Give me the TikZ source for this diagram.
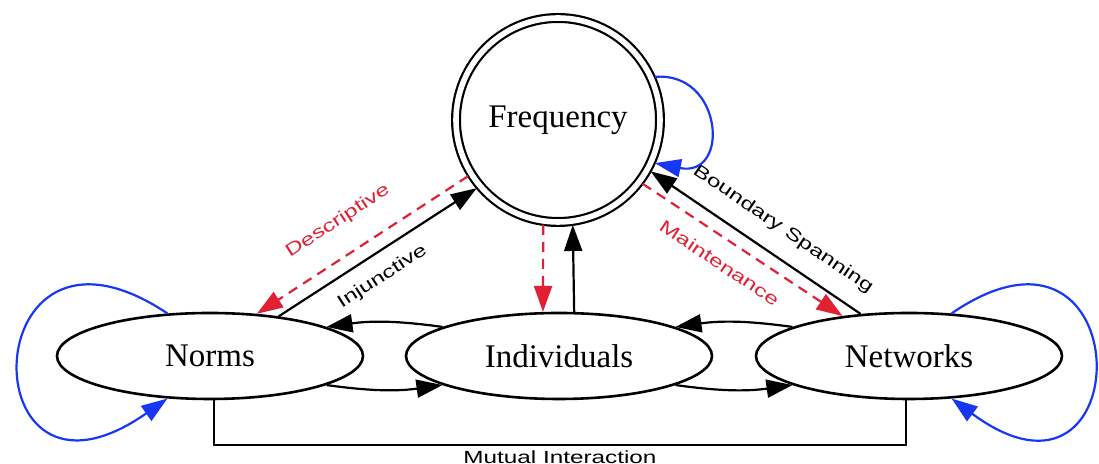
\documentclass[tikz,border=0pt]{standalone}
\usepackage{fontspec}
\setmainfont{Liberation Serif}
\newfontfamily\edgefont[FakeStretch=1.38]{Liberation Sans}
\usetikzlibrary{arrows.meta,shapes.geometric}
\definecolor{cuered}{RGB}{226,32,52}
\definecolor{loopblue}{RGB}{22,56,245}

\begin{document}
\begin{tikzpicture}
  [x=.5pt,y=.5pt,line width=1.1pt,
   state/.style={ellipse,draw,line width=1.3pt,minimum width=153pt,minimum height=43pt,inner sep=0pt,font=\fontsize{16.5}{18}\selectfont},
   hub/.style={circle,draw,double,double distance=2.8pt,minimum size=102pt,inner sep=0pt,outer sep=2pt,font=\fontsize{16.5}{18}\selectfont},
   link/.style={-{Triangle[length=13pt,width=9pt]}},
   cue/.style={link,color=cuered,dash pattern=on 5pt off 3.5pt},
   selfloop/.style={link,color=loopblue},
   tag/.style={sloped,inner sep=0pt,font=\fontsize{8.8}{10}\edgefont}]
  \useasboundingbox (0,0) rectangle (1099,464);

  \node[hub] (freq) at (558,344) {Frequency};
  \node[state] (norms) at (210,108) {Norms};
  \node[state] (indiv) at (559,108) {Individuals};
  \node[state] (netw) at (909,108) {Networks};

  \draw[cue] (freq.212) -- node[tag,pos=.53,above=12pt] {Descriptive} (norms.42);
  \draw[link] (norms.30) -- node[tag,pos=.46,below=7pt] {Injunctive} (freq.220);
  \draw[cue] (freq.323) -- node[tag,pos=.45,below=8pt] {Maintenance} (netw.149);
  \draw[link] (netw.139) -- node[tag,pos=.44,above=8.5pt] {Boundary Spanning} (freq.331);
  \draw[cue] (freq.262) -- (indiv.110);
  \draw[link] (indiv.71) -- (freq.278);

  \draw[link] (indiv.166) to[bend right=8] (norms.14);
  \draw[link] (norms.346) to[bend right=8] (indiv.194);
  \draw[link] (netw.166) to[bend right=8] (indiv.14);
  \draw[link] (indiv.346) to[bend right=8] (netw.194);

  \draw ([xshift=2pt]norms.south) -- ++(0,-45) -| node[pos=.25,below=2pt,inner sep=0pt,font=\fontsize{8.8}{10}\edgefont] {Mutual Interaction} ([xshift=-1.5pt]netw.south);

  \draw[selfloop] (norms.135) .. controls +(-195,130) and +(-200,-140) .. (norms.225);
  \draw[selfloop] (netw.45) .. controls +(190,130) and +(190,-140) .. (netw.315);
  \draw[selfloop] (freq.24) .. controls +(68,6) and +(76,-15) .. (freq.336);
\end{tikzpicture}
\end{document}
